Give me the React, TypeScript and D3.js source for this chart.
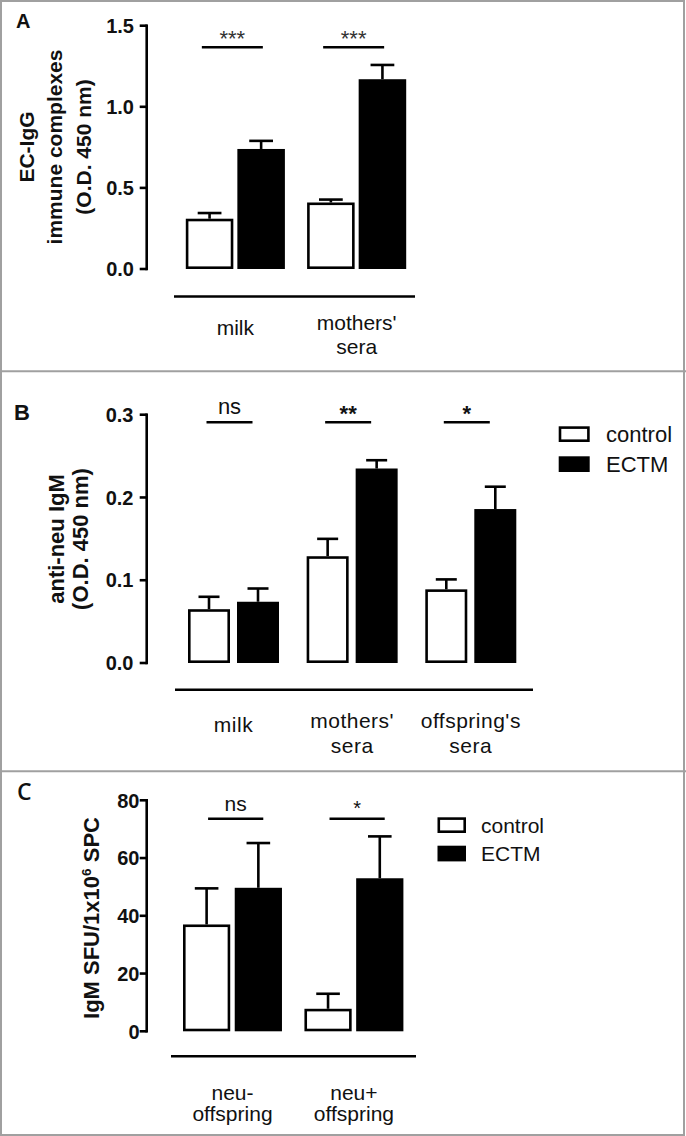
import React from "react";
import * as d3 from "d3";

const FONT = "'Liberation Sans', Arial, Helvetica, sans-serif";

// ---------- shared ----------
const seriesNames = ["control", "ECTM"];
const seriesFill = ["#ffffff", "#000000"];

// ---------- panel A ----------
const aCategories = ["milk", "mothers'\nsera"];
const aControl = [0.31, 0.41];
const aControlErr = [0.035, 0.018];
const aECTM = [0.74, 1.17];
const aECTMErr = [0.05, 0.088];
const aSignificance = ["***", "***"];
const aTicks = [0, 0.5, 1.0, 1.5];
const aTickLabels = ["0.0", "0.5", "1.0", "1.5"];
const aYLabel = ["EC-IgG", "immune complexes", "(O.D. 450 nm)"];

// ---------- panel B ----------
const bCategories = ["milk", "mothers'\nsera", "offspring's\nsera"];
const bControl = [0.065, 0.129, 0.089];
const bControlErr = [0.015, 0.021, 0.012];
const bECTM = [0.074, 0.235, 0.186];
const bECTMErr = [0.016, 0.01, 0.027];
const bSignificance = ["ns", "**", "*"];
const bTicks = [0, 0.1, 0.2, 0.3];
const bTickLabels = ["0.0", "0.1", "0.2", "0.3"];
const bYLabel = ["anti-neu IgM", "(O.D. 450 nm)"];

// ---------- panel C ----------
const cCategories = ["neu-\noffspring", "neu+\noffspring"];
const cControl = [37, 7.8];
const cControlErr = [12.5, 5.2];
const cECTM = [49.7, 53];
const cECTMErr = [15.5, 14.5];
const cSignificance = ["ns", "*"];
const cTicks = [0, 20, 40, 60, 80];
const cTickLabels = ["0", "20", "40", "60", "80"];
const cYLabel = ["IgM SFU/1x10", "6", " SPC"];

type Cfg = {
  letter: string;
  letterX: number;
  letterY: number;
  letterFont: string;
  letterSize: number;
  letterWeight: number;
  categories: string[];
  values: number[][];
  errors: number[][];
  sig: string[];
  ticks: number[];
  tickLabels: string[];
  yMax: number;
  yRange: [number, number];
  axisX: number;
  tickLabelX: number;
  tickFont: number;
  xRange: [number, number];
  pad: number;
  innerPad: number;
  sigLevel: number;
  sigHalf: number;
  sigShift: number;
  starGap: number;
  nsGap: number;
  starFont: number;
  starBold: boolean;
  starColor: string;
  nsFont: number;
  catLineY: number;
  catLineX: [number, number];
  catY: number;
  catGap: number;
  singleShift: number;
  catFont: number;
  catSpacing: number;
  yLabelLines: string[];
  yLabelX: number[];
  yLabelCy: number;
  yLabelFont: number;
  sup?: boolean;
  legend?: { boxX: number; boxW: number; boxH: number; top: number; step: number; textX: number; font: number };
};

const SW = 2.6;

function Panel({ c }: { c: Cfg }) {
  const y = d3.scaleLinear().domain([0, c.yMax]).range(c.yRange);
  const x = d3
    .scaleBand<string>()
    .domain(c.categories)
    .range(c.xRange)
    .paddingInner(c.pad)
    .paddingOuter(0);
  const xs = d3
    .scaleBand<string>()
    .domain(seriesNames)
    .range([0, x.bandwidth()])
    .paddingInner(c.innerPad)
    .paddingOuter(0);
  const bw = xs.bandwidth();

  return (
    <g fontFamily={FONT}>
      {/* panel letter */}
      <text
        x={c.letterX}
        y={c.letterY}
        fontFamily={c.letterFont}
        fontSize={c.letterSize}
        fontWeight={c.letterWeight}
        fill="#111"
      >
        {c.letter}
      </text>

      {/* y axis */}
      <line x1={c.axisX} x2={c.axisX} y1={y(0) + SW / 2} y2={y(c.yMax) - SW / 2} stroke="#000" strokeWidth={SW} />
      {c.ticks.map((t, i) => (
        <g key={"t" + i}>
          <line x1={c.axisX - 7} x2={c.axisX} y1={y(t)} y2={y(t)} stroke="#000" strokeWidth={SW} />
          <text
            x={c.tickLabelX}
            y={y(t)}
            dy="0.36em"
            textAnchor="end"
            fontSize={c.tickFont}
            fontWeight="bold"
            fill="#111"
          >
            {c.tickLabels[i]}
          </text>
        </g>
      ))}

      {/* y label */}
      {c.sup ? (
        <text
          transform={`translate(${c.yLabelX[0]},${c.yLabelCy}) rotate(-90)`}
          textAnchor="middle"
          fontSize={c.yLabelFont}
          fontWeight="bold"
          fill="#111"
        >
          <tspan>{c.yLabelLines[0]}</tspan>
          <tspan dy={-8} fontSize={c.yLabelFont * 0.62}>
            {c.yLabelLines[1]}
          </tspan>
          <tspan dy={8}>{c.yLabelLines[2]}</tspan>
        </text>
      ) : (
        c.yLabelLines.map((l, i) => (
          <text
            key={"yl" + i}
            transform={`translate(${c.yLabelX[i]},${c.yLabelCy}) rotate(-90)`}
            textAnchor="middle"
            fontSize={c.yLabelFont}
            fontWeight="bold"
            fill="#111"
          >
            {l}
          </text>
        ))
      )}

      {/* bars */}
      {c.categories.map((cat, ci) => (
        <g key={"g" + ci}>
          {seriesNames.map((s, si) => {
            const v = c.values[si][ci];
            const e = c.errors[si][ci];
            const bx = (x(cat) as number) + (xs(s) as number);
            const cx = bx + bw / 2;
            const top = y(v);
            return (
              <g key={s}>
                <line x1={cx} x2={cx} y1={top} y2={y(v + e)} stroke="#000" strokeWidth={SW} />
                <line x1={cx - bw / 4} x2={cx + bw / 4} y1={y(v + e)} y2={y(v + e)} stroke="#000" strokeWidth={SW} />
                <rect
                  x={bx + SW / 2}
                  y={top + SW / 2}
                  width={bw - SW}
                  height={y(0) - top - SW}
                  fill={seriesFill[si]}
                  stroke="#000"
                  strokeWidth={SW}
                />
              </g>
            );
          })}
        </g>
      ))}

      {/* significance */}
      {c.categories.map((cat, ci) => {
        const gc = (x(cat) as number) + x.bandwidth() / 2 + c.sigShift;
        const ly = y(c.sigLevel);
        const lab = c.sig[ci];
        const isStar = lab.indexOf("*") >= 0;
        return (
          <g key={"s" + ci}>
            <line x1={gc - c.sigHalf} x2={gc + c.sigHalf} y1={ly} y2={ly} stroke="#000" strokeWidth={SW} />
            <text
              x={gc}
              y={ly - (isStar ? c.starGap : c.nsGap)}
              textAnchor="middle"
              fontSize={isStar ? c.starFont : c.nsFont}
              fontWeight={isStar && c.starBold ? "bold" : "normal"}
              fill={isStar ? c.starColor : "#111"}
            >
              {lab}
            </text>
          </g>
        );
      })}

      {/* category line and labels */}
      <line x1={c.catLineX[0]} x2={c.catLineX[1]} y1={c.catLineY} y2={c.catLineY} stroke="#000" strokeWidth={SW} />
      {c.categories.map((cat, ci) => {
        const lines = cat.split("\n");
        const gc = (x(cat) as number) + x.bandwidth() / 2;
        const base = c.catY + (lines.length === 1 ? c.singleShift : 0);
        return lines.map((l, li) => (
          <text
            key={"c" + ci + "-" + li}
            x={gc}
            y={base + li * c.catGap}
            textAnchor="middle"
            fontSize={c.catFont}
            letterSpacing={c.catSpacing}
            fill="#111"
          >
            {l}
          </text>
        ));
      })}

      {/* legend */}
      {c.legend &&
        seriesNames.map((s, si) => {
          const L = c.legend!;
          const t = L.top + si * L.step;
          return (
            <g key={"lg" + si}>
              <rect
                x={L.boxX + SW / 2}
                y={t + SW / 2}
                width={L.boxW - SW}
                height={L.boxH - SW}
                fill={seriesFill[si]}
                stroke="#000"
                strokeWidth={SW}
              />
              <text x={L.textX} y={t + L.boxH} fontSize={L.font} fill="#111">
                {s}
              </text>
            </g>
          );
        })}
    </g>
  );
}

const panelA: Cfg = {
  letter: "A",
  letterX: 16,
  letterY: 28,
  letterFont: FONT,
  letterSize: 20,
  letterWeight: 700,
  categories: aCategories,
  values: [aControl, aECTM],
  errors: [aControlErr, aECTMErr],
  sig: aSignificance,
  ticks: aTicks,
  tickLabels: aTickLabels,
  yMax: 1.5,
  yRange: [269, 25.7],
  axisX: 146.7,
  tickLabelX: 134,
  tickFont: 20,
  xRange: [185.8, 406.2],
  pad: 0.183,
  innerPad: 0.078,
  sigLevel: 1.367,
  sigHalf: 30.5,
  sigShift: -3,
  starGap: 1.5,
  nsGap: 8,
  starFont: 22,
  starBold: false,
  starColor: "#333",
  nsFont: 22,
  catLineY: 296.5,
  catLineX: [174, 415],
  catY: 329.5,
  catGap: 24,
  singleShift: 5.5,
  catFont: 21,
  catSpacing: 0,
  yLabelLines: aYLabel,
  yLabelX: [33.5, 62, 91],
  yLabelCy: 147,
  yLabelFont: 21,
};

const panelB: Cfg = {
  letter: "B",
  letterX: 14,
  letterY: 420,
  letterFont: FONT,
  letterSize: 22,
  letterWeight: 700,
  categories: bCategories,
  values: [bControl, bECTM],
  errors: [bControlErr, bECTMErr],
  sig: bSignificance,
  ticks: bTicks,
  tickLabels: bTickLabels,
  yMax: 0.3,
  yRange: [663, 414.7],
  axisX: 146.7,
  tickLabelX: 133.5,
  tickFont: 20,
  xRange: [188, 516.3],
  pad: 0.233,
  innerPad: 0.143,
  sigLevel: 0.2908,
  sigHalf: 23,
  sigShift: -4,
  starGap: 1.5,
  nsGap: 8.6,
  starFont: 22,
  starBold: true,
  starColor: "#111",
  nsFont: 22,
  catLineY: 689.7,
  catLineX: [175, 533],
  catY: 728.3,
  catGap: 25,
  singleShift: 3.4,
  catFont: 21,
  catSpacing: 0.5,
  yLabelLines: bYLabel,
  yLabelX: [64, 88],
  yLabelCy: 539,
  yLabelFont: 22,
  legend: { boxX: 558.7, boxW: 31, boxH: 15.7, top: 426.3, step: 30, textX: 606, font: 22 },
};

const panelC: Cfg = {
  letter: "C",
  letterX: 17,
  letterY: 800,
  letterFont: "'Open Sans', 'Liberation Sans', sans-serif",
  letterSize: 23,
  letterWeight: 600,
  categories: cCategories,
  values: [cControl, cECTM],
  errors: [cControlErr, cECTMErr],
  sig: cSignificance,
  ticks: cTicks,
  tickLabels: cTickLabels,
  yMax: 80,
  yRange: [1031.3, 800.3],
  axisX: 146.7,
  tickLabelX: 139.5,
  tickFont: 20,
  xRange: [183, 403.4],
  pad: 0.185,
  innerPad: 0.087,
  sigLevel: 73.6,
  sigHalf: 27.6,
  sigShift: 3.2,
  starGap: 4,
  nsGap: 7.4,
  starFont: 20,
  starBold: false,
  starColor: "#111",
  nsFont: 21,
  catLineY: 1056.3,
  catLineX: [171, 416],
  catY: 1100,
  catGap: 21,
  singleShift: 0,
  catFont: 21,
  catSpacing: 0,
  yLabelLines: cYLabel,
  yLabelX: [99],
  yLabelCy: 918,
  yLabelFont: 22,
  sup: true,
  legend: { boxX: 437.5, boxW: 28.5, boxH: 15.7, top: 817.3, step: 28.4, textX: 481, font: 21 },
};

export default function App() {
  return (
    <svg
      width={686}
      height={1136}
      viewBox="0 0 686 1136"
      style={{ position: "absolute", left: 0, top: 0, background: "#fff" }}
    >
      <rect x={0} y={0} width={686} height={1136} fill="#fff" />
      <Panel c={panelA} />
      <Panel c={panelB} />
      <Panel c={panelC} />
      {/* panel frames */}
      <rect x={1} y={1} width={683} height={1134} fill="none" stroke="#a0a0a0" strokeWidth={2} />
      <line x1={0} x2={686} y1={371.3} y2={371.3} stroke="#a0a0a0" strokeWidth={2} />
      <line x1={0} x2={686} y1={771.3} y2={771.3} stroke="#a0a0a0" strokeWidth={2} />
    </svg>
  );
}
